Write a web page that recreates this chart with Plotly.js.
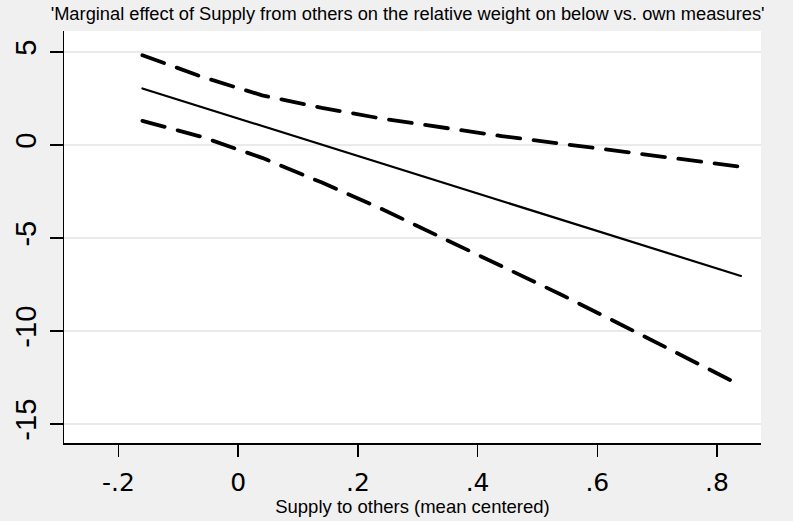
<!DOCTYPE html>
<html>
<head>
<meta charset="utf-8">
<script src="https://cdn.plot.ly/plotly-3.0.1.min.js"></script>
<style>
html, body { margin: 0; padding: 0; background: #f0f0f0; }
#chart { width: 793px; height: 521px; }
.scatterlayer .js-line { stroke-linecap: round; }
</style>
</head>
<body>
<div id="chart"></div>
<script>
// Supply to others (mean centered)
const supply = [-0.16, -0.06, 0.04, 0.14, 0.24, 0.34, 0.44, 0.54, 0.64, 0.74, 0.84];
// Marginal effect (point estimate)
const effect = [3.04, 2.03, 1.02, 0.02, -0.99, -2.00, -3.00, -4.01, -5.02, -6.03, -7.04];
// Upper confidence bound
const upperCI = [4.83, 3.66, 2.67, 2.00, 1.42, 0.93, 0.48, 0.07, -0.35, -0.76, -1.17];
// Lower confidence bound
const lowerCI = [1.30, 0.43, -0.69, -2.02, -3.44, -4.97, -6.52, -8.05, -9.66, -11.28, -12.93];

const xTickVals = [-0.2, 0, 0.2, 0.4, 0.6, 0.8];
const xTickText = ['-.2', '0', '.2', '.4', '.6', '.8'];
const yTickVals = [-15, -10, -5, 0, 5];
const yTickText = ['-15', '-10', '-5', '0', '5'];

const dashed = { color: '#000000', width: 3.8, dash: '23px,13.5px' };

const traces = [
  { x: supply, y: upperCI, mode: 'lines', line: dashed, hoverinfo: 'x+y', showlegend: false },
  { x: supply, y: effect, mode: 'lines', line: { color: '#000000', width: 2.2 }, hoverinfo: 'x+y', showlegend: false },
  { x: supply, y: lowerCI, mode: 'lines', line: dashed, hoverinfo: 'x+y', showlegend: false }
];

const layout = {
  width: 793,
  height: 521,
  paper_bgcolor: '#f0f0f0',
  plot_bgcolor: '#ffffff',
  margin: { l: 64, r: 32, t: 31, b: 78 },
  font: { family: 'Liberation Sans, Arial, sans-serif', color: '#000000' },
  title: {
    text: "'Marginal effect of Supply from others on the relative weight on below vs. own measures'",
    font: { size: 18.3, color: '#000000' },
    x: 0.514, xanchor: 'center',
    y: 0.974, yanchor: 'middle'
  },
  xaxis: {
    range: [-0.291, 0.8735],
    tickvals: xTickVals,
    ticktext: xTickText,
    ticks: 'outside', ticklen: 12, tickwidth: 1.5, tickcolor: '#000000',
    showline: true, linecolor: '#000000', linewidth: 1.5,
    showgrid: false, zeroline: false,
    ticklabelstandoff: 4,
    tickfont: { size: 25, family: 'DejaVu Sans, sans-serif' },
    title: { text: 'Supply to others (mean centered)', font: { size: 18.5 }, standoff: 4 }
  },
  yaxis: {
    range: [-16.02, 6.13],
    tickvals: yTickVals,
    ticktext: yTickText,
    tickangle: -90,
    ticks: 'outside', ticklen: 13, tickwidth: 1.5, tickcolor: '#000000',
    showline: true, linecolor: '#000000', linewidth: 1.5,
    showgrid: true, gridcolor: '#eaeaea', gridwidth: 2,
    zeroline: false,
    ticklabelstandoff: 2,
    tickfont: { size: 29 }
  }
};

Plotly.newPlot('chart', traces, layout, { displayModeBar: false, staticPlot: true });
</script>
</body>
</html>
